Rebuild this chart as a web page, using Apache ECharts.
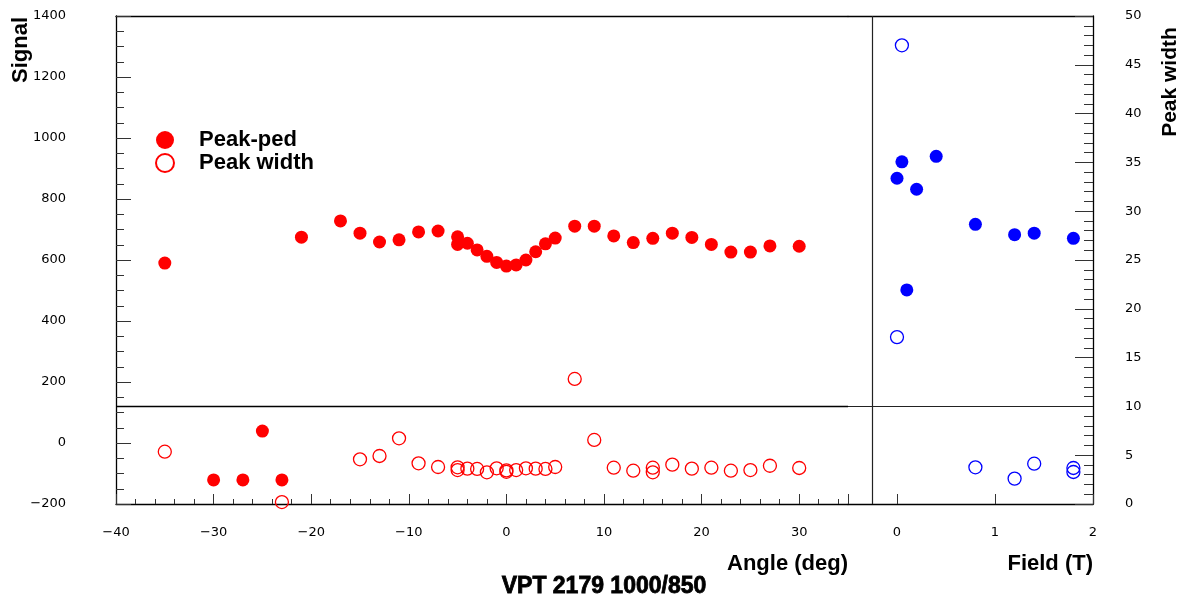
<!DOCTYPE html>
<html>
<head>
<meta charset="utf-8">
<script src="https://cdn.jsdelivr.net/npm/echarts@6/dist/echarts.min.js"></script>
<style>html,body{margin:0;padding:0;background:#fff;}#c{width:1188px;height:601px;}</style>
</head>
<body>
<div id="c"></div>
<script>
// ---- data ----
const angleFilled = [-35,-30,-27,-25,-23,-21,-17,-15,-13,-11,-9,-7,-5,-5,-4,-3,-2,-1,0,1,2,3,4,5,7,9,11,13,15,17,19,21,23,25,27,30];
const signalAngle = [590,-121,-121,39,-121,675,728,688,659,666,692,695,676,651,655,633,612,592,580,584,600,627,653,672,711,711,679,657,671,688,674,651,626,626,646,645];

const angleOpen = [-35,-23,-15,-13,-11,-9,-7,-5,-5,-4,-3,-2,-1,0,0,1,2,3,4,5,7,9,11,13,15,15,17,19,21,23,25,27,30];
const widthAngle = [5.36,0.2,4.58,4.92,6.73,4.17,3.79,3.76,3.48,3.62,3.59,3.25,3.66,3.45,3.3,3.48,3.66,3.62,3.59,3.79,12.81,6.56,3.72,3.41,3.72,3.25,4.03,3.62,3.72,3.41,3.48,3.92,3.69];

const fieldFilled = [0,0.05,0.1,0.2,0.4,0.8,1.2,1.4,1.8];
const signalField = [868,922,502,832,940,717,683,688,671];

const fieldOpen = [0,0.05,0.8,1.2,1.4,1.8,1.8];
const widthField = [17.1,47.0,3.76,2.6,4.13,3.69,3.28];

// axis ranges / separators
const angleRange = [-40, 35];
const fieldRange = [-0.5, 2];
const fieldTicks = [0, 1, 2];
const signalRange = [-200, 1400];
const widthRange = [0, 50];
const widthSeparator = 10;
const fieldSeparator = -0.25;

const legendNames = ['Peak-ped', 'Peak width'];
const xTitleLeft = 'Angle (deg)';
const xTitleRight = 'Field (T)';
const yTitleLeft = 'Signal';
const yTitleRight = 'Peak width';
const chartTitle = 'VPT 2179 1000/850';

const zip = (a, b) => a.map((v, i) => [v, b[i]]);
const fmt = v => (v < 0 ? '\u2212' + Math.abs(v) : String(v));

const LBL = { fontFamily: 'DejaVu Sans', fontSize: 13, color: '#000' };
const BOLD = 'Liberation Sans';
const tickStyle = { color: '#333', width: 1 };
const lineBlack = { color: '#000', width: 1.3 };

const chart = echarts.init(document.getElementById('c'), null, { renderer: 'canvas' });

const option = {
  animation: false,
  backgroundColor: '#fff',
  grid: [
    { left: 116, top: 16, width: 732, height: 488 },
    { left: 848, top: 16, width: 245, height: 488 }
  ],
  xAxis: [
    { gridIndex: 0, type: 'value', min: angleRange[0], max: angleRange[1], interval: 10, position: 'bottom',
      axisLine: { show: true, onZero: false, lineStyle: lineBlack },
      axisTick: { show: true, inside: true, length: 10, lineStyle: tickStyle },
      minorTick: { show: true, splitNumber: 5, length: 5, lineStyle: tickStyle },
      axisLabel: Object.assign({ margin: 22, formatter: v => (v % 10 === 0 && v < 35 ? fmt(v) : '') }, LBL),
      splitLine: { show: false } },
    { gridIndex: 1, type: 'value', min: fieldRange[0], max: fieldRange[1], position: 'bottom',
      axisLine: { show: true, onZero: false, lineStyle: lineBlack },
      axisTick: { show: true, inside: true, length: 10, customValues: fieldTicks, lineStyle: tickStyle },
      axisLabel: Object.assign({ margin: 22, customValues: fieldTicks, formatter: v => fmt(v) }, LBL),
      splitLine: { show: false } },
    { gridIndex: 0, type: 'value', min: angleRange[0], max: angleRange[1], position: 'top',
      axisLine: { show: true, onZero: false, lineStyle: lineBlack },
      axisTick: { show: false }, axisLabel: { show: false }, splitLine: { show: false } },
    { gridIndex: 1, type: 'value', min: fieldRange[0], max: fieldRange[1], position: 'top',
      axisLine: { show: true, onZero: false, lineStyle: lineBlack },
      axisTick: { show: false }, axisLabel: { show: false }, splitLine: { show: false } }
  ],
  yAxis: [
    { gridIndex: 0, type: 'value', min: signalRange[0], max: signalRange[1], interval: 200, position: 'left',
      axisLine: { show: true, onZero: false, lineStyle: lineBlack },
      axisTick: { show: true, inside: true, length: 15, lineStyle: tickStyle },
      minorTick: { show: true, splitNumber: 4, length: 8, lineStyle: tickStyle },
      axisLabel: Object.assign({ margin: 50, formatter: v => fmt(v) }, LBL),
      splitLine: { show: false } },
    { gridIndex: 0, type: 'value', min: widthRange[0], max: widthRange[1], show: false },
    { gridIndex: 1, type: 'value', min: signalRange[0], max: signalRange[1], show: false },
    { gridIndex: 1, type: 'value', min: widthRange[0], max: widthRange[1], interval: 5, position: 'right',
      axisLine: { show: true, onZero: false, lineStyle: lineBlack },
      axisTick: { show: true, inside: true, length: 18, lineStyle: tickStyle },
      minorTick: { show: true, splitNumber: 5, length: 9, lineStyle: tickStyle },
      axisLabel: Object.assign({ margin: 32, formatter: v => fmt(v) }, LBL),
      splitLine: { show: false } }
  ],
  legend: {
    data: legendNames,
    orient: 'vertical',
    left: 150, top: 124,
    itemWidth: 18, itemHeight: 18, itemGap: 1,
    icon: 'circle',
    selectedMode: false,
    textStyle: { fontFamily: BOLD, fontWeight: 'bold', fontSize: 22, color: '#000', padding: [0, 0, 0, 20], lineHeight: 20 }
  },
  series: [
    { name: legendNames[0], type: 'scatter', xAxisIndex: 0, yAxisIndex: 0, symbol: 'circle', symbolSize: 13,
      itemStyle: { color: '#ff0000', opacity: 1 }, data: zip(angleFilled, signalAngle), z: 3 },
    { name: legendNames[1], type: 'scatter', xAxisIndex: 0, yAxisIndex: 1, symbol: 'circle', symbolSize: 13,
      itemStyle: { color: 'rgba(255,255,255,0)', borderColor: '#ff0000', borderWidth: 1.3, opacity: 1 },
      data: zip(angleOpen, widthAngle), z: 3,
      markLine: { silent: true, symbol: 'none', label: { show: false },
        lineStyle: { color: '#000', width: 1.3, type: 'solid' }, data: [{ yAxis: widthSeparator }] } },
    { name: 'Field peak-ped', type: 'scatter', xAxisIndex: 1, yAxisIndex: 2, symbol: 'circle', symbolSize: 13,
      itemStyle: { color: '#0000ff', opacity: 1 }, data: zip(fieldFilled, signalField), z: 3 },
    { name: 'Field peak width', type: 'scatter', xAxisIndex: 1, yAxisIndex: 3, symbol: 'circle', symbolSize: 13,
      itemStyle: { color: 'rgba(255,255,255,0)', borderColor: '#0000ff', borderWidth: 1.3, opacity: 1 },
      data: zip(fieldOpen, widthField), z: 3,
      markLine: { silent: true, symbol: 'none', label: { show: false },
        lineStyle: { color: '#222', width: 1.2, type: 'solid' },
        data: [{ yAxis: widthSeparator }, { xAxis: fieldSeparator }] } }
  ],
  graphic: [
    { type: 'text', x: 21, y: 50, rotation: Math.PI / 2,
      style: { text: yTitleLeft, x: 0, y: 0, align: 'center', verticalAlign: 'middle', font: 'bold 22px "Liberation Sans"', fill: '#000' } },
    { type: 'text', x: 1170, y: 82, rotation: Math.PI / 2,
      style: { text: yTitleRight, x: 0, y: 0, align: 'center', verticalAlign: 'middle', font: 'bold 21px "Liberation Sans"', fill: '#000' } },
    { type: 'text', x: 848, y: 564,
      style: { text: xTitleLeft, align: 'right', verticalAlign: 'middle', font: 'bold 22px "Liberation Sans"', fill: '#000' } },
    { type: 'text', x: 1093, y: 564,
      style: { text: xTitleRight, align: 'right', verticalAlign: 'middle', font: 'bold 22px "Liberation Sans"', fill: '#000' } },
    { type: 'text', x: 604, y: 587,
      style: { text: chartTitle, align: 'center', verticalAlign: 'middle', font: 'bold 23px "Liberation Sans"', fill: '#000', stroke: '#000', lineWidth: 0.8 } }
  ]
};
chart.setOption(option);
</script>
</body>
</html>
